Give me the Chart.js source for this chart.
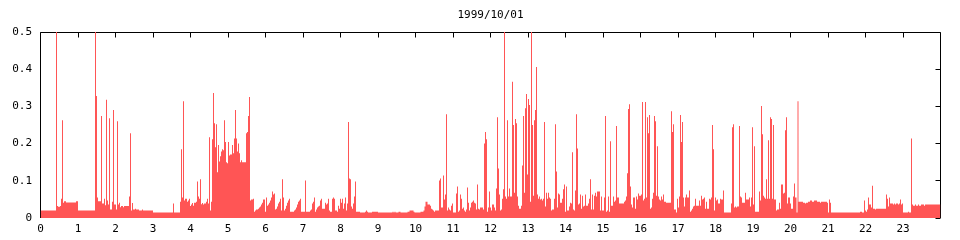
<!DOCTYPE html>
<html>
<head>
<meta charset="utf-8">
<script src="https://cdn.jsdelivr.net/npm/chart.js@4.4.1/dist/chart.umd.min.js"></script>
<style>
  html, body { margin: 0; padding: 0; background: #fff; }
</style>
</head>
<body>
<canvas id="ch" width="960" height="240"></canvas>
<script>
/* ── 1999/10/01 load trace, step data (hour, value) ── */
const TITLE = '1999/10/01';

// 00h - 03h
const hoursA = [
  0, .413, .44, .467, .52, .547, .573, .6,
  .627, .68, .947, 1, 1.453, 1.48, 1.507, 1.533,
  1.613, 1.64, 1.693, 1.72, 1.747, 1.773, 1.8, 1.827,
  1.853, 1.907, 1.933, 1.96, 2.013, 2.04, 2.067, 2.093,
  2.12, 2.147, 2.2, 2.227, 2.36, 2.387, 2.413, 2.44,
  2.467, 2.52, 2.547, 2.627, 2.707, 2.733];
const loadA = [
  .02, .5, .032, .03, .032, .052, .263, .041,
  .045, .042, .045, .02, .5, .328, .055, .045,
  .274, .039, .052, .034, .318, .047, .036, .268,
  .023, .044, .29, .036, .023, .26, .036, .041,
  .029, .032, .029, .032, .058, .228, .02, .04,
  .023, .025, .023, .02, .023, .02];

// 03h - 06h
const hoursB = [
  3, 3.533, 3.56, 3.72, 3.747, 3.773, 3.8, 3.827,
  3.853, 3.907, 3.933, 3.96, 3.987, 4.013, 4.04, 4.067,
  4.093, 4.147, 4.173, 4.2, 4.227, 4.253, 4.28, 4.307,
  4.333, 4.36, 4.413, 4.44, 4.467, 4.493, 4.52, 4.547,
  4.573, 4.6, 4.627, 4.653, 4.68, 4.707, 4.733, 4.76,
  4.787, 4.813, 4.84, 4.867, 4.893, 4.92, 4.947, 4.973,
  5, 5.027, 5.053, 5.107, 5.133, 5.16, 5.187, 5.213,
  5.24, 5.267, 5.293, 5.32, 5.347, 5.373, 5.48, 5.507,
  5.533, 5.56, 5.587, 5.613, 5.667, 5.693, 5.72, 5.747,
  5.8, 5.827, 5.853, 5.88, 5.907, 5.933, 5.987];
const loadB = [
  .015, .039, .015, .044, .185, .055, .314, .047,
  .052, .044, .047, .052, .032, .036, .04, .033,
  .041, .044, .098, .058, .052, .104, .037, .04,
  .036, .039, .044, .052, .039, .217, .02, .044,
  .212, .336, .255, .19, .252, .123, .196, .152,
  .166, .179, .185, .182, .263, .204, .15, .147,
  .204, .168, .171, .196, .174, .214, .29, .214,
  .179, .2, .174, .15, .155, .15, .228, .231,
  .274, .325, .047, .05, .052, .017, .02, .023,
  .025, .028, .031, .036, .041, .05, .017];

// 06h - 09h
const hoursC = [
  6.013, 6.04, 6.067, 6.093, 6.12, 6.147, 6.173, 6.2,
  6.227, 6.253, 6.28, 6.307, 6.333, 6.36, 6.387, 6.413,
  6.44, 6.467, 6.493, 6.52, 6.547, 6.573, 6.6, 6.627,
  6.653, 6.76, 6.787, 6.813, 6.84, 6.867, 6.893, 6.92,
  6.947, 7.053, 7.08, 7.187, 7.213, 7.24, 7.267, 7.293,
  7.32, 7.347, 7.373, 7.4, 7.427, 7.453, 7.48, 7.507,
  7.587, 7.613, 7.64, 7.667, 7.693, 7.72, 7.773, 7.8,
  7.827, 7.853, 7.907, 7.933, 7.96, 7.987, 8.013, 8.04,
  8.067, 8.093, 8.12, 8.147, 8.173, 8.2, 8.227, 8.253,
  8.28, 8.307, 8.333, 8.36, 8.387, 8.413, 8.52, 8.653,
  8.68, 8.707, 8.733, 8.84];
const loadC = [
  .055, .033, .036, .041, .047, .055, .071, .063,
  .066, .023, .025, .031, .039, .044, .052, .02,
  .104, .055, .02, .025, .033, .041, .047, .052,
  .017, .02, .023, .028, .036, .044, .047, .052,
  .017, .101, .017, .02, .023, .039, .044, .055,
  .017, .023, .028, .031, .033, .047, .052, .025,
  .041, .036, .039, .052, .02, .017, .052, .055,
  .052, .02, .017, .033, .025, .052, .041, .052,
  .025, .039, .055, .02, .039, .258, .106, .104,
  .031, .025, .039, .058, .098, .017, .015, .017,
  .02, .017, .015, .017];

// 09h - 12h
const hoursD = [
  9, 9.387, 9.413, 9.44, 9.467, 9.547, 9.6, 9.787,
  9.84, 9.947, 9.973, 10.133, 10.213, 10.24, 10.267, 10.32,
  10.387, 10.413, 10.44, 10.467, 10.493, 10.52, 10.627, 10.653,
  10.68, 10.733, 10.76, 10.787, 10.813, 10.84, 10.867, 10.893,
  10.92, 10.947, 10.973, 11, 11.08, 11.107, 11.133, 11.16,
  11.187, 11.213, 11.24, 11.267, 11.293, 11.32, 11.347, 11.373,
  11.4, 11.427, 11.453, 11.48, 11.507, 11.533, 11.56, 11.587,
  11.613, 11.64, 11.667, 11.693, 11.72, 11.8, 11.827, 11.853,
  11.88, 11.907, 11.933, 11.96, 11.987];
const loadD = [
  .015, .017, .015, .017, .015, .017, .015, .017,
  .02, .017, .015, .017, .02, .031, .044, .036,
  .033, .025, .023, .02, .017, .02, .101, .106,
  .028, .114, .05, .063, .279, .02, .028, .023,
  .02, .033, .039, .015, .066, .085, .017, .02,
  .063, .052, .025, .028, .02, .017, .023, .082,
  .041, .02, .028, .041, .044, .047, .041, .039,
  .023, .09, .025, .023, .028, .023, .2, .231,
  .212, .017, .028, .071, .028];

// 12h - 15h
const hoursE = [
  12.013, 12.04, 12.093, 12.12, 12.147, 12.173, 12.2, 12.227,
  12.253, 12.28, 12.307, 12.333, 12.36, 12.387, 12.413, 12.44,
  12.467, 12.493, 12.52, 12.573, 12.6, 12.627, 12.653, 12.68,
  12.707, 12.733, 12.76, 12.813, 12.84, 12.867, 12.893, 12.92,
  12.947, 12.973, 13, 13.027, 13.053, 13.08, 13.107, 13.133,
  13.16, 13.187, 13.213, 13.24, 13.267, 13.293, 13.32, 13.347,
  13.373, 13.4, 13.427, 13.453, 13.48, 13.507, 13.533, 13.56,
  13.587, 13.613, 13.64, 13.693, 13.72, 13.747, 13.773, 13.8,
  13.827, 13.853, 13.907, 13.933, 13.96, 13.987, 14.013, 14.04,
  14.093, 14.12, 14.147, 14.173, 14.2, 14.227, 14.253, 14.28,
  14.307, 14.333, 14.36, 14.387, 14.413, 14.44, 14.467, 14.493,
  14.52, 14.547, 14.6, 14.627, 14.653, 14.68, 14.707, 14.733,
  14.76, 14.787, 14.813, 14.84, 14.92, 14.947, 14.973];
const loadE = [
  .02, .036, .028, .02, .079, .271, .133, .063,
  .02, .023, .052, .077, .5, .058, .052, .263,
  .058, .079, .058, .366, .25, .068, .266, .255,
  .058, .033, .025, .033, .141, .274, .068, .295,
  .333, .117, .32, .304, .044, .5, .25, .06,
  .263, .29, .406, .063, .052, .058, .05, .052,
  .047, .052, .258, .031, .068, .052, .068, .055,
  .052, .02, .023, .052, .252, .125, .028, .066,
  .063, .041, .052, .077, .09, .017, .085, .02,
  .031, .041, .039, .177, .023, .02, .074, .279,
  .187, .036, .039, .063, .025, .06, .031, .033,
  .063, .033, .039, .052, .104, .023, .063, .023,
  .06, .068, .058, .071, .02, .058, .02];

// 15h - 18h
const hoursF = [
  15.027, 15.053, 15.08, 15.107, 15.133, 15.16, 15.187, 15.213,
  15.267, 15.293, 15.32, 15.347, 15.373, 15.427, 15.56, 15.587,
  15.613, 15.64, 15.667, 15.693, 15.72, 15.747, 15.773, 15.8,
  15.853, 15.88, 15.907, 15.933, 15.96, 16.013, 16.04, 16.067,
  16.093, 16.12, 16.147, 16.173, 16.2, 16.227, 16.253, 16.28,
  16.307, 16.333, 16.36, 16.387, 16.413, 16.44, 16.467, 16.493,
  16.52, 16.547, 16.573, 16.6, 16.627, 16.68, 16.813, 16.84,
  16.867, 16.893, 16.947, 16.973, 17, 17.027, 17.053, 17.08,
  17.107, 17.133, 17.16, 17.187, 17.213, 17.24, 17.293, 17.32,
  17.347, 17.373, 17.4, 17.427, 17.453, 17.48, 17.56, 17.587,
  17.613, 17.64, 17.667, 17.693, 17.72, 17.747, 17.773, 17.827,
  17.853, 17.88, 17.907, 17.933, 17.96, 17.987];
const loadF = [
  .055, .274, .017, .02, .058, .017, .206, .033,
  .058, .044, .047, .247, .055, .039, .044, .047,
  .058, .12, .293, .306, .085, .036, .028, .055,
  .025, .058, .05, .066, .06, .063, .312, .047,
  .052, .312, .055, .271, .228, .277, .025, .028,
  .052, .068, .274, .26, .06, .193, .058, .05,
  .047, .058, .05, .063, .044, .041, .287, .231,
  .252, .023, .015, .052, .028, .058, .277, .204,
  .258, .055, .031, .055, .063, .055, .074, .017,
  .02, .025, .031, .033, .052, .033, .047, .033,
  .06, .05, .052, .055, .025, .044, .025, .052,
  .05, .055, .25, .185, .02, .055];

// 18h - 21h
const hoursG = [
  18.013, 18.04, 18.067, 18.12, 18.147, 18.2, 18.227, 18.413,
  18.44, 18.467, 18.493, 18.52, 18.547, 18.573, 18.627, 18.653,
  18.68, 18.707, 18.787, 18.813, 18.893, 18.92, 18.947, 18.973,
  19, 19.027, 19.053, 19.16, 19.187, 19.213, 19.24, 19.267,
  19.293, 19.32, 19.347, 19.373, 19.4, 19.427, 19.453, 19.48,
  19.507, 19.533, 19.56, 19.613, 19.64, 19.693, 19.72, 19.747,
  19.8, 19.827, 19.853, 19.88, 19.907, 19.933, 19.987, 20.013,
  20.067, 20.093, 20.12, 20.16, 20.187, 20.213, 20.333, 20.387,
  20.413, 20.467, 20.52, 20.573, 20.627, 20.707, 20.787, 20.813,
  20.973];
const loadG = [
  .047, .05, .039, .052, .05, .074, .015, .039,
  .244, .252, .028, .031, .028, .031, .247, .058,
  .055, .041, .068, .05, .055, .031, .055, .244,
  .036, .193, .017, .071, .047, .301, .225, .06,
  .055, .052, .104, .052, .209, .052, .271, .266,
  .052, .25, .05, .02, .023, .041, .025, .09,
  .066, .068, .236, .271, .039, .055, .039, .025,
  .058, .093, .055, .015, .314, .044, .041, .039,
  .041, .044, .047, .044, .047, .044, .041, .044,
  .041];

// 21h - 24h
const hoursH = [
  21, 21.027, 21.053, 21.08, 21.853, 21.907, 21.96, 21.987,
  22.013, 22.04, 22.067, 22.093, 22.147, 22.173, 22.2, 22.253,
  22.28, 22.547, 22.573, 22.6, 22.627, 22.653, 22.733, 22.76,
  22.787, 22.813, 22.867, 22.893, 22.92, 22.947, 22.973, 23,
  23.133, 23.16, 23.213, 23.24, 23.267, 23.32, 23.347, 23.4,
  23.427, 23.48, 23.56, 23.587, 24];
const loadH = [
  .015, .05, .041, .015, .017, .015, .047, .02,
  .017, .023, .055, .036, .028, .087, .025, .023,
  .025, .063, .052, .031, .055, .039, .036, .039,
  .036, .039, .036, .039, .05, .036, .039, .015,
  .017, .015, .214, .036, .033, .036, .033, .036,
  .033, .036, .033, .036, .036];

const xTicks = [0,1,2,3,4,5,6,7,8,9,10,11,12,13,14,15,16,17,18,19,20,21,22,23];
const yTicks = [0, 0.1, 0.2, 0.3, 0.4, 0.5];

const hours = [].concat(hoursA, hoursB, hoursC, hoursD, hoursE, hoursF, hoursG, hoursH);
const load  = [].concat(loadA, loadB, loadC, loadD, loadE, loadF, loadG, loadH);
if (hours.length !== load.length) console.warn('length mismatch', hours.length, load.length);

const RED  = '#ff5555';
const FONT = { family: "'DejaVu Sans Mono', monospace", size: 11, weight: 'normal' };

// gnuplot-style frame: border on left/top/right, inward ticks on top and right
const frame = {
  id: 'frame',
  beforeDatasetsDraw(chart) {
    const { ctx, chartArea: a, scales: { x, y } } = chart;
    const L = Math.floor(a.left) + .5, R = Math.floor(a.right) + .5, T = Math.floor(a.top) + .5;
    ctx.save();
    ctx.strokeStyle = '#000';
    ctx.lineWidth = 1;
    ctx.beginPath();
    ctx.moveTo(L, a.bottom);
    ctx.lineTo(L, T);
    ctx.lineTo(R, T);
    ctx.lineTo(R, a.bottom);
    xTicks.forEach(h => {
      const px = Math.floor(x.getPixelForValue(h)) + .5;
      ctx.moveTo(px, T);
      ctx.lineTo(px, T + 5);
    });
    yTicks.forEach(v => {
      const py = Math.floor(y.getPixelForValue(v)) + .5;
      ctx.moveTo(R, py);
      ctx.lineTo(R - 5, py);
    });
    ctx.stroke();
    ctx.restore();
  }
};

new Chart(document.getElementById('ch'), {
  type: 'line',
  data: {
    datasets: [{
      data: hours.map((h, i) => ({ x: h, y: load[i] })),
      stepped: true,
      fill: 'origin',
      backgroundColor: RED,
      borderColor: RED,
      borderWidth: 0,
      pointRadius: 0,
      tension: 0,
    }]
  },
  options: {
    responsive: false,
    animation: false,
    devicePixelRatio: 1,
    layout: { padding: { left: 0, right: 19.5, top: 0, bottom: 0 } },
    plugins: {
      legend: { display: false },
      tooltip: { enabled: false },
      title: {
        display: true, text: TITLE, color: '#000', font: FONT,
        fullSize: false, padding: { top: 9, bottom: 9.8 }
      }
    },
    scales: {
      x: {
        type: 'linear', min: 0, max: 24,
        grid: { display: false, drawTicks: false }, border: { display: false },
        ticks: {
          stepSize: 1, autoSkip: false, maxRotation: 0, padding: 5,
          color: '#000', font: FONT,
          callback: v => (v < 24 ? String(v) : '')
        },
        afterFit: s => { s.height = 22; }
      },
      y: {
        min: 0, max: 0.5,
        grid: { display: false, drawTicks: false }, border: { display: false },
        ticks: {
          stepSize: 0.1, padding: 8.5, color: '#000', font: FONT,
          callback: v => String(+v.toFixed(1))
        },
        afterFit: s => { s.width = 40.5; }
      }
    }
  },
  plugins: [frame]
});
</script>
</body>
</html>
